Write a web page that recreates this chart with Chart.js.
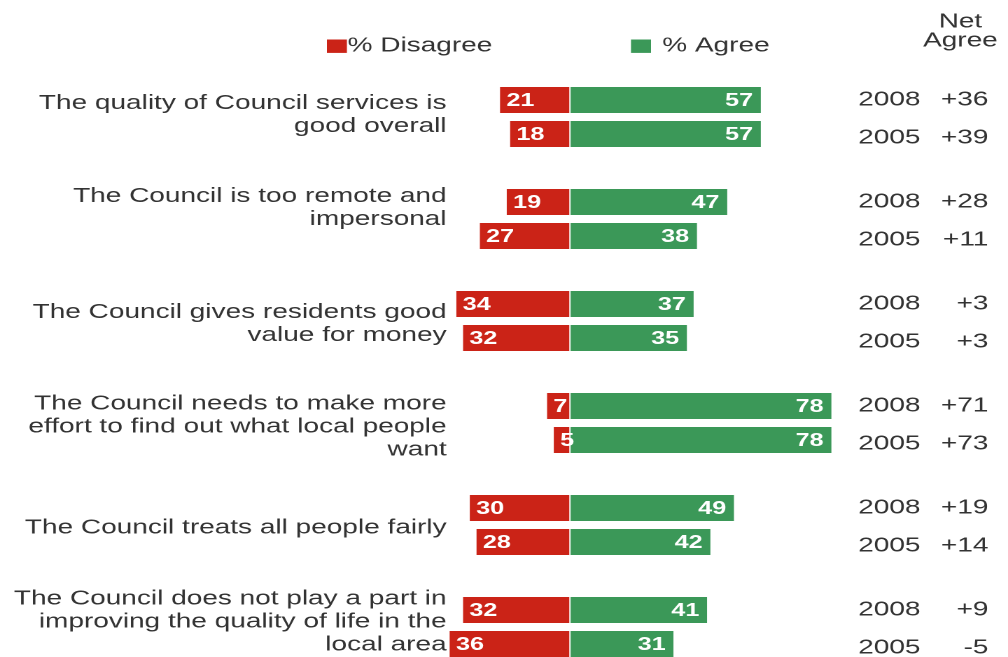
<!DOCTYPE html>
<html>
<head>
<meta charset="utf-8">
<script src="https://cdn.jsdelivr.net/npm/chart.js@4.4.0/dist/chart.umd.min.js"></script>
<style>
  html, body { margin: 0; padding: 0; background: #fff; overflow: hidden; }
  #wrap { width: 720px; height: 657px; transform: scaleX(1.4); transform-origin: 0 0; }
</style>
</head>
<body>
<div id="wrap"><canvas id="surveyChart" width="720" height="657"></canvas></div>
<script>
const statements = [
    ['The quality of Council services is', 'good overall'],
    ['The Council is too remote and', 'impersonal'],
    ['The Council gives residents good', 'value for money'],
    ['The Council needs to make more', 'effort to find out what local people', 'want'],
    ['The Council treats all people fairly'],
    ['The Council does not play a part in', 'improving the quality of life in the', 'local area']
];
const years = ['2008', '2005'];
const disagree2008 = [21, 19, 34, 7, 30, 32];
const disagree2005 = [18, 27, 32, 5, 28, 36];
const agree2008 = [57, 47, 37, 78, 49, 41];
const agree2005 = [57, 38, 35, 78, 42, 31];

const RED = '#cb2317';
const GREEN = '#3b9858';
const TEXT = '#333333';
const labelNudge = [-2, -11, 3, 4, 3, -5];

// one row per year, blank row between statements
const rows = [];
const disagreeRows = [];
const agreeRows = [];
statements.forEach((s, i) => {
    rows.push({ stmt: i, year: years[0] });
    disagreeRows.push(-disagree2008[i]);
    agreeRows.push(agree2008[i]);
    rows.push({ stmt: i, year: years[1] });
    disagreeRows.push(-disagree2005[i]);
    agreeRows.push(agree2005[i]);
    if (i < statements.length - 1) {
        rows.push(null);
        disagreeRows.push(null);
        agreeRows.push(null);
    }
});

const textPlugin = {
    id: 'surveyText',
    afterDatasetsDraw(chart) {
        const ctx = chart.ctx;
        const y = chart.scales.y;
        ctx.save();
        ctx.textBaseline = 'middle';

        // values inside the bars
        ctx.fillStyle = '#fff';
        ctx.font = 'bold 18px "Liberation Sans", Arial, sans-serif';
        chart.getDatasetMeta(0).data.forEach((bar, j) => {
            const v = disagreeRows[j];
            if (v === null) return;
            ctx.textAlign = 'left';
            ctx.fillText(String(-v), Math.min(bar.x, bar.base) + 5, bar.y + 1);
        });
        chart.getDatasetMeta(1).data.forEach((bar, j) => {
            const v = agreeRows[j];
            if (v === null) return;
            ctx.textAlign = 'right';
            ctx.fillText(String(v), bar.x - 6, bar.y + 1);
        });

        ctx.fillStyle = TEXT;
        ctx.font = '20px "Liberation Sans", Arial, sans-serif';

        // statement labels, centred on their pair of bars
        statements.forEach((lines, i) => {
            const first = rows.findIndex(r => r && r.stmt === i);
            const mid = (y.getPixelForValue(first) + y.getPixelForValue(first + 1)) / 2 + labelNudge[i];
            const lh = 23;
            const top = mid - (lines.length - 1) * lh / 2;
            ctx.textAlign = 'right';
            lines.forEach((t, k) => ctx.fillText(t, 319, top + k * lh));
        });

        // year and net agree on the right
        rows.forEach((r, j) => {
            if (!r) return;
            const py = y.getPixelForValue(j) + (r.year === years[1] ? 4 : 0);
            const net = agreeRows[j] + disagreeRows[j];
            ctx.textAlign = 'left';
            ctx.fillText(r.year, 613, py);
            ctx.textAlign = 'right';
            ctx.fillText((net >= 0 ? '+' : '') + net, 706, py);
        });

        // header
        ctx.textAlign = 'center';
        ctx.fillText('Net', 686, 22);
        ctx.fillText('Agree', 686, 41);

        // legend
        ctx.textAlign = 'left';
        ctx.fillStyle = RED;
        ctx.fillRect(233.5, 39.5, 14.3, 13.4);
        ctx.fillStyle = GREEN;
        ctx.fillRect(450.7, 39.5, 14.3, 13.4);
        ctx.fillStyle = TEXT;
        ctx.fillText('% Disagree', 248.3, 46);
        ctx.fillText('% Agree', 473, 46);
        ctx.restore();
    }
};

new Chart(document.getElementById('surveyChart'), {
    type: 'bar',
    data: {
        labels: rows.map((r, j) => r ? r.year + ' ' + j : ''),
        datasets: [
            { label: '% Disagree', data: disagreeRows, backgroundColor: RED },
            { label: '% Agree', data: agreeRows, backgroundColor: GREEN }
        ]
    },
    options: {
        indexAxis: 'y',
        responsive: false,
        animation: false,
        devicePixelRatio: 2,
        layout: { padding: { top: 100, bottom: 13, left: 311.1, right: 108.9 } },
        datasets: {
            bar: {
                barThickness: 26,
                borderWidth: { left: 0.8, right: 0.8, top: 0, bottom: 0 },
                borderColor: '#ffffff',
                borderSkipped: false,
                clip: false
            }
        },
        scales: {
            x: { stacked: true, min: -40, max: 85, display: false },
            y: { stacked: true, offset: false, display: false, grid: { offset: false } }
        },
        plugins: {
            legend: { display: false },
            tooltip: { enabled: false }
        }
    },
    plugins: [textPlugin]
});
</script>
</body>
</html>
